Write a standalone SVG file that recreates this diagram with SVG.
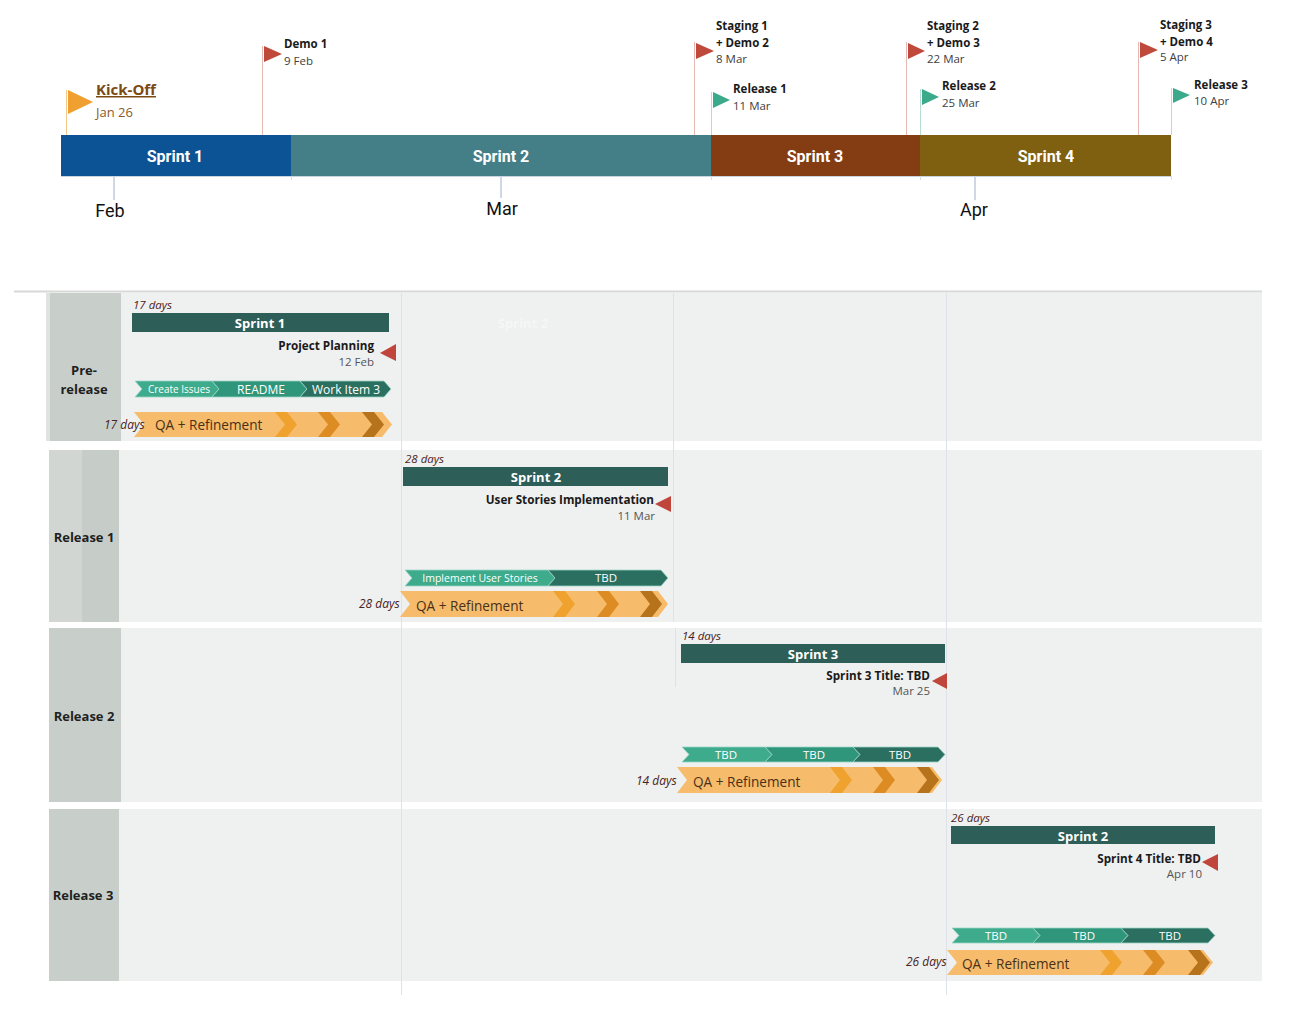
<svg xmlns="http://www.w3.org/2000/svg" width="1304" height="1026" viewBox="0 0 1304 1026">
<defs>
<style>
.lbl{font-family:"Open Sans","Liberation Sans",sans-serif;font-weight:bold;font-size:11.5px;fill:#1a1a1a}
.dt{font-family:"Open Sans","Liberation Sans",sans-serif;font-size:11.5px;fill:#404040}
.bar{font-family:Roboto,"Liberation Sans",sans-serif;font-weight:bold;font-size:16px;fill:#ffffff;text-anchor:middle}
.mon{font-family:Roboto,"Liberation Sans",sans-serif;font-size:18px;fill:#111;text-anchor:middle}
.hdr{font-family:"Open Sans","Liberation Sans",sans-serif;font-weight:bold;font-size:13px;fill:#1f1f1f;text-anchor:middle}
.sb{font-family:"Open Sans","Liberation Sans",sans-serif;font-weight:bold;font-size:13px;fill:#fff;text-anchor:middle}
.days{font-family:"Open Sans","Liberation Sans",sans-serif;font-style:italic;font-size:11.5px;fill:#4a2222}
.ttl{font-family:"Open Sans","Liberation Sans",sans-serif;font-weight:bold;font-size:11.7px;fill:#1a1a1a;text-anchor:end}
.tdt{font-family:"Open Sans","Liberation Sans",sans-serif;font-size:11.5px;fill:#555;text-anchor:end}
.chv{font-family:"Open Sans","Liberation Sans",sans-serif;font-size:11.5px;fill:#fff;text-anchor:middle}
.qa{font-family:"Open Sans","Liberation Sans",sans-serif;font-size:13.6px;fill:#4a3018}
.lane{fill:#eff0f0}
.head{fill:#c8cfcb}
.grid{stroke:#dde2e8;stroke-width:1}
.c1{fill:#3dab8c;stroke:#9ad6c4;stroke-width:0.8}
.c2{fill:#2f957b;stroke:#9ad6c4;stroke-width:0.8}
.c3{fill:#2a6f60;stroke:#9ad6c4;stroke-width:0.8}
.band{fill:#f6bc6b}
.o1{fill:#f0a22e}
.o2{fill:#dc8c22}
.o3{fill:#b7731b}
.sbar{fill:#2e5e58}
.tri{fill:#c0453a}
.red{fill:#bf4a3c}
.grn{fill:#3aaa8a}
.pr{stroke:#e6b8b2;stroke-width:1}
.pg{stroke:#b8dcd2;stroke-width:1}
.tick{stroke:#9fb0cc;stroke-width:1}
</style>
</defs>
<rect width="1304" height="1026" fill="#ffffff"/>

<!-- top timeline -->
<g id="timeline-bar">
<rect x="61" y="135" width="230" height="41" fill="#0b5394"/>
<rect x="291" y="135" width="420" height="41" fill="#447f88"/>
<rect x="711" y="135" width="209" height="41" fill="#843c13"/>
<rect x="920" y="135" width="251" height="41" fill="#7f5f10"/>
<line x1="61" y1="176.5" x2="1171" y2="176.5" stroke="#c8d4e0" stroke-width="1"/>
<text class="bar" x="175" y="162">Sprint 1</text>
<text class="bar" x="501" y="162">Sprint 2</text>
<text class="bar" x="815" y="162">Sprint 3</text>
<text class="bar" x="1046" y="162">Sprint 4</text>
</g>

<g id="months">
<text class="mon" x="110" y="217">Feb</text>
<text class="mon" x="502" y="215">Mar</text>
<text class="mon" x="974" y="216">Apr</text>
</g>

<g id="connectors">
<line class="tick" x1="114" y1="177" x2="114" y2="200"/>
<line class="tick" x1="501" y1="177" x2="501" y2="198"/>
<line class="tick" x1="975" y1="177" x2="975" y2="200"/>
<line x1="291.5" y1="176" x2="291.5" y2="180" stroke="#d8dde3"/>
<line x1="711.5" y1="176" x2="711.5" y2="180" stroke="#d8dde3"/>
<line x1="920.5" y1="176" x2="920.5" y2="180" stroke="#d8dde3"/>
<line x1="1171.5" y1="176" x2="1171.5" y2="180" stroke="#d8dde3"/>
<line x1="66.5" y1="90" x2="66.5" y2="135" stroke="#f3c98a" stroke-width="1"/>
<line class="pr" x1="262.5" y1="46" x2="262.5" y2="135"/>
<line class="pr" x1="694.5" y1="42" x2="694.5" y2="135"/>
<line class="pg" x1="711.5" y1="92" x2="711.5" y2="135"/>
<line class="pr" x1="906.5" y1="42" x2="906.5" y2="135"/>
<line class="pg" x1="920.5" y1="89" x2="920.5" y2="135"/>
<line class="pr" x1="1138.5" y1="42" x2="1138.5" y2="135"/>
<line class="pg" x1="1171.5" y1="88" x2="1171.5" y2="135"/>
</g>

<g id="ms-kickoff">
<polygon points="68,90 93,102 68,114" fill="#f0a030"/>
<text x="96" y="95" font-family="'Open Sans','Liberation Sans',sans-serif" font-weight="bold" font-size="15" fill="#7b4a15" text-decoration="underline">Kick-Off</text>
<text x="96" y="117" font-family="'Open Sans','Liberation Sans',sans-serif" font-size="13" fill="#8b5a2b">Jan 26</text>
</g>
<g id="ms-demo1">
<polygon class="red" points="264,46 282,54 264,62"/>
<text class="lbl" x="284" y="48">Demo 1</text>
<text class="dt" x="284" y="65">9 Feb</text>
</g>
<g id="ms-staging1">
<polygon class="red" points="696,43 714,51 696,59"/>
<text class="lbl" x="716" y="30">Staging 1</text>
<text class="lbl" x="716" y="47">+ Demo 2</text>
<text class="dt" x="716" y="63">8 Mar</text>
</g>
<g id="ms-release1">
<polygon class="grn" points="713,92 730,100 713,108"/>
<text class="lbl" x="733" y="93">Release 1</text>
<text class="dt" x="733" y="110">11 Mar</text>
</g>
<g id="ms-staging2">
<polygon class="red" points="908,43 925,51 908,59"/>
<text class="lbl" x="927" y="30">Staging 2</text>
<text class="lbl" x="927" y="47">+ Demo 3</text>
<text class="dt" x="927" y="63">22 Mar</text>
</g>
<g id="ms-release2">
<polygon class="grn" points="922,89 939,97 922,105"/>
<text class="lbl" x="942" y="90">Release 2</text>
<text class="dt" x="942" y="107">25 Mar</text>
</g>
<g id="ms-staging3">
<polygon class="red" points="1140,42 1158,50 1140,58"/>
<text class="lbl" x="1160" y="29">Staging 3</text>
<text class="lbl" x="1160" y="46">+ Demo 4</text>
<text class="dt" x="1160" y="61">5 Apr</text>
</g>
<g id="ms-release3">
<polygon class="grn" points="1173,88 1190,95 1173,103"/>
<text class="lbl" x="1194" y="89">Release 3</text>
<text class="dt" x="1194" y="105">10 Apr</text>
</g>

<line x1="14" y1="291.5" x2="1262" y2="291.5" stroke="#d8d8d8" stroke-width="2"/>

<!-- lanes -->
<g id="lane-backgrounds">
<rect class="lane" x="121" y="293" width="1141" height="148"/>
<rect class="lane" x="119" y="450" width="1143" height="172"/>
<rect class="lane" x="121" y="628" width="1141" height="174"/>
<rect class="lane" x="119" y="809" width="1143" height="172"/>
<line class="grid" x1="401.5" y1="293" x2="401.5" y2="995"/>
<line class="grid" x1="673.5" y1="293" x2="673.5" y2="622"/>
<line class="grid" x1="675.5" y1="628" x2="675.5" y2="687"/>
<line class="grid" x1="946.5" y1="293" x2="946.5" y2="995"/>
</g>

<g id="lane-prerelease">
<rect class="head" x="50" y="293" width="71" height="148"/>
<rect x="46" y="293" width="4" height="148" fill="#dfe3e1"/>
<text class="hdr" x="84" y="375">Pre-</text>
<text class="hdr" x="84" y="394">release</text>
</g>
<g id="lane-release1">
<rect x="49" y="450" width="33" height="172" fill="#d1d6d3"/>
<rect x="82" y="450" width="37" height="172" fill="#c6cdc9"/>
<text class="hdr" x="84" y="542">Release 1</text>
</g>
<g id="lane-release2">
<rect class="head" x="49" y="628" width="72" height="174"/>
<text class="hdr" x="84" y="721">Release 2</text>
</g>
<g id="lane-release3">
<rect class="head" x="49" y="809" width="70" height="172"/>
<text class="hdr" x="83" y="900">Release 3</text>
</g>

<!-- lane 1 content -->
<g id="sprint1-task">
<text x="523" y="328" class="sb" style="fill:#ffffff;opacity:0.45">Sprint 2</text>
<text class="days" x="133" y="309">17 days</text>
<rect class="sbar" x="132" y="313" width="257" height="19"/>
<text class="sb" x="260" y="328">Sprint 1</text>
</g>
<g id="ms-project-planning">
<text class="ttl" x="374" y="350">Project Planning</text>
<text class="tdt" x="374" y="366">12 Feb</text>
<polygon class="tri" points="380,353 396,344 396,361"/>
</g>
<g id="workitems-1">
<polygon class="c1" points="135,381 212,381 219,389 212,397 135,397 142,389"/>
<polygon class="c2" points="212,381 300,381 307,389 300,397 212,397 219,389"/>
<polygon class="c3" points="300,381 384,381 391,389 384,397 300,397 307,389"/>
<text class="chv" x="179" y="393" style="font-size:10px">Create Issues</text>
<text class="chv" x="261" y="393.5" style="font-size:12px">README</text>
<text class="chv" x="346" y="393.5" style="font-size:12px">Work Item 3</text>
</g>
<g id="qa-1">
<polygon class="band" points="134,412 382,412 392,424.5 382,437 134,437 144,424.5"/>
<polygon class="o1" points="275,412 287,412 297,424.5 287,437 275,437 285,424.5"/>
<polygon class="o2" points="318,412 330,412 340,424.5 330,437 318,437 328,424.5"/>
<polygon class="o3" points="362,412 374,412 384,424.5 374,437 362,437 372,424.5"/>
<text class="qa" x="155" y="430">QA + Refinement</text>
<text class="days" x="104" y="429" style="font-size:12px">17 days</text>
</g>

<!-- lane 2 content -->
<g id="sprint2-task">
<text class="days" x="405" y="463">28 days</text>
<rect class="sbar" x="403" y="467" width="265" height="19"/>
<text class="sb" x="536" y="482">Sprint 2</text>
</g>
<g id="ms-user-stories">
<text class="ttl" x="654" y="504">User Stories Implementation</text>
<text class="tdt" x="655" y="520">11 Mar</text>
<polygon class="tri" points="655,504 671,496 671,512"/>
</g>
<g id="workitems-2">
<polygon class="c1" points="405,570 548,570 555,578 548,586 405,586 412,578"/>
<polygon class="c3" points="548,570 661,570 668,578 661,586 548,586 555,578"/>
<text class="chv" x="480" y="582" style="font-size:10.5px">Implement User Stories</text>
<text class="chv" x="606" y="581.5">TBD</text>
</g>
<g id="qa-2">
<polygon class="band" points="400,591 658,591 668,604 658,617 400,617 410,604"/>
<polygon class="o1" points="553,591 565,591 575,604 565,617 553,617 563,604"/>
<polygon class="o2" points="597,591 609,591 619,604 609,617 597,617 607,604"/>
<polygon class="o3" points="640,591 652,591 662,604 652,617 640,617 650,604"/>
<text class="qa" x="416" y="611">QA + Refinement</text>
<text class="days" x="359" y="608" style="font-size:12px">28 days</text>
</g>

<!-- lane 3 content -->
<g id="sprint3-task">
<text class="days" x="682" y="640">14 days</text>
<rect class="sbar" x="681" y="644" width="264" height="19"/>
<text class="sb" x="813" y="659">Sprint 3</text>
</g>
<g id="ms-sprint3-title">
<text class="ttl" x="930" y="680">Sprint 3 Title: TBD</text>
<text class="tdt" x="930" y="695">Mar 25</text>
<polygon class="tri" points="932,681 947,673 947,689"/>
</g>
<g id="workitems-3">
<polygon class="c1" points="682,747 765,747 772,754.5 765,762 682,762 689,754.5"/>
<polygon class="c2" points="765,747 853,747 860,754.5 853,762 765,762 772,754.5"/>
<polygon class="c3" points="853,747 938,747 945,754.5 938,762 853,762 860,754.5"/>
<text class="chv" x="726" y="759">TBD</text>
<text class="chv" x="814" y="759">TBD</text>
<text class="chv" x="900" y="759">TBD</text>
</g>
<g id="qa-3">
<polygon class="band" points="677,767 932,767 942,780 932,793 677,793 687,780"/>
<polygon class="o1" points="830,767 842,767 852,780 842,793 830,793 840,780"/>
<polygon class="o2" points="873,767 885,767 895,780 885,793 873,793 883,780"/>
<polygon class="o3" points="917,767 929,767 939,780 929,793 917,793 927,780"/>
<text class="qa" x="693" y="787">QA + Refinement</text>
<text class="days" x="636" y="785" style="font-size:12px">14 days</text>
</g>

<!-- lane 4 content -->
<g id="sprint4-task">
<text class="days" x="951" y="822">26 days</text>
<rect class="sbar" x="951" y="826" width="264" height="18"/>
<text class="sb" x="1083" y="841">Sprint 2</text>
</g>
<g id="ms-sprint4-title">
<text class="ttl" x="1201" y="863">Sprint 4 Title: TBD</text>
<text class="tdt" x="1202" y="878">Apr 10</text>
<polygon class="tri" points="1202,862 1218,854 1218,871"/>
</g>
<g id="workitems-4">
<polygon class="c1" points="952,928 1033,928 1040,935.5 1033,943 952,943 959,935.5"/>
<polygon class="c2" points="1033,928 1121,928 1128,935.5 1121,943 1033,943 1040,935.5"/>
<polygon class="c3" points="1121,928 1208,928 1215,935.5 1208,943 1121,943 1128,935.5"/>
<text class="chv" x="996" y="940">TBD</text>
<text class="chv" x="1084" y="940">TBD</text>
<text class="chv" x="1170" y="940">TBD</text>
</g>
<g id="qa-4">
<polygon class="band" points="947,950 1203,950 1213,962.5 1203,975 947,975 957,962.5"/>
<polygon class="o1" points="1100,950 1112,950 1122,962.5 1112,975 1100,975 1110,962.5"/>
<polygon class="o2" points="1143,950 1155,950 1165,962.5 1155,975 1143,975 1153,962.5"/>
<polygon class="o3" points="1188,950 1200,950 1210,962.5 1200,975 1188,975 1198,962.5"/>
<text class="qa" x="962" y="969">QA + Refinement</text>
<text class="days" x="906" y="966" style="font-size:12px">26 days</text>
</g>
</svg>
